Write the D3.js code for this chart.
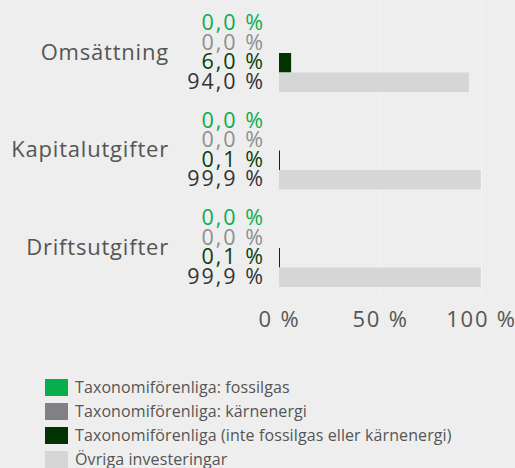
<!DOCTYPE html>
<html><head><meta charset="utf-8">
<script src="https://cdn.jsdelivr.net/npm/d3@7"></script>
<style>
html,body{margin:0;padding:0;background:#edeeed;}
svg{display:block;}
text{font-family:"Open Sans","Noto Sans",sans-serif;}
</style></head>
<body><svg id="c" width="515" height="468"></svg>
<script>
const categories = ["Omsättning","Kapitalutgifter","Driftsutgifter"];
const seriesNames = ["Taxonomiförenliga: fossilgas","Taxonomiförenliga: kärnenergi","Taxonomiförenliga (inte fossilgas eller kärnenergi)","Övriga investeringar"];
const fossilgas = [0.0, 0.0, 0.0];
const karnenergi = [0.0, 0.0, 0.0];
const ovrigaTaxonomi = [6.0, 0.1, 0.1];
const ovrigaInvesteringar = [94.0, 99.9, 99.9];
const tickValues = [0, 50, 100];
const seriesColors = ["#0aad4e","#7f8184","#003300","#d6d6d6"];
const labelColors = ["#0aad4e","#8c8e90","#0b3d0b","#333333"];

const values = [fossilgas, karnenergi, ovrigaTaxonomi, ovrigaInvesteringar];
const svg = d3.select("#c");
const x = d3.scaleLinear().domain([0,100]).range([279,481]);
const y0 = d3.scaleBand().domain(categories).range([4.25,296.75]).paddingInner(0.2).paddingOuter(0.1);
const y1 = d3.scaleBand().domain(d3.range(4)).range([0,y0.bandwidth()]);
const fmt = v => d3.format(".1f")(v).replace(".", ",") + " %";

// gridlines
svg.append("g").selectAll("line").data(tickValues.slice(1)).join("line")
  .attr("x1",d=>x(d)+0.5).attr("x2",d=>x(d)+0.5).attr("y1",0).attr("y2",297)
  .attr("stroke","#f3f4f3").attr("stroke-width",1);

const g = svg.append("g").selectAll("g").data(categories).join("g")
  .attr("transform",d=>`translate(0,${y0(d)})`);

g.each(function(cat,ci){
  const gg = d3.select(this);
  values.forEach((arr,si)=>{
    const v = arr[ci];
    if (v>0) {
      gg.append("rect").attr("x",x(0)).attr("y",y1(si))
        .attr("width",Math.max(1,x(v)-x(0))).attr("height",y1.bandwidth())
        .attr("fill",seriesColors[si]);
    }
  });
  values.forEach((arr,si)=>{
    gg.append("text").attr("x",265).attr("y",y1(si)+y1.bandwidth()/2)
      .attr("dy","0.3em").attr("text-anchor","end")
      .attr("font-size",21.5).attr("letter-spacing","2px")
      .attr("fill",labelColors[si]).text(fmt(arr[ci]));
  });
  gg.append("text").attr("x",169).attr("y",y0.bandwidth()/2).attr("dy","0.3em")
    .attr("text-anchor","end").attr("font-size",22).attr("letter-spacing","0.8px")
    .attr("fill","#555555").text(cat);
});

// x axis
const ax = svg.append("g").attr("transform","translate(0,297)")
  .call(d3.axisBottom(x).tickValues(tickValues).tickSize(0).tickPadding(14).tickFormat(d=>d+" %"));
ax.select(".domain").remove();
ax.selectAll("text").attr("font-size",22).attr("letter-spacing","1.8px")
  .attr("fill","#555555").attr("font-family","'Open Sans',sans-serif");

// legend
const lg = svg.append("g").selectAll("g").data(seriesNames).join("g")
  .attr("transform",(d,i)=>`translate(45,${379+i*24})`);
lg.append("rect").attr("width",23).attr("height",17).attr("fill",(d,i)=>seriesColors[i]);
lg.append("text").attr("x",30).attr("y",8.5).attr("dy","0.36em").attr("font-size",16)
  .attr("letter-spacing","0.1px").attr("fill","#555555").text(d=>d);
</script></body></html>
